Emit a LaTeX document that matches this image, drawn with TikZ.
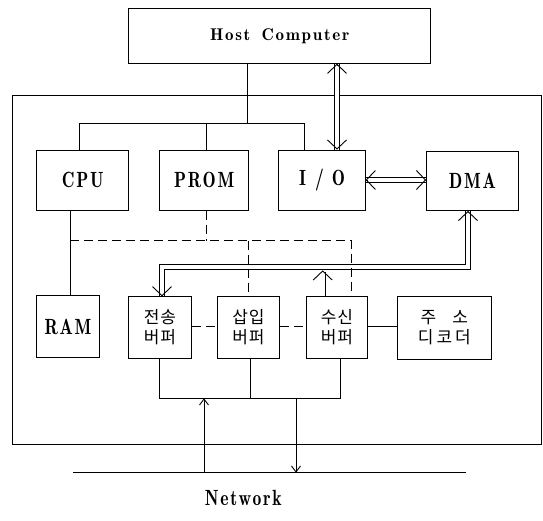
\documentclass[tikz,border=0pt]{standalone}
\usepackage{fontspec}
\usetikzlibrary{arrows.meta}
\newfontfamily\krfont[LetterSpace=5]{Noto Sans CJK KR}
\newfontfamily\krwide[LetterSpace=18]{Noto Sans CJK KR}
\newfontfamily\labfont[LetterSpace=8,FakeStretch=0.8]{lmromandemi10-regular.otf}
\newfontfamily\hostfont[LetterSpace=10]{lmromandemi10-regular.otf}
\begin{document}
\begin{tikzpicture}[x=1pt,y=-1pt,line width=0.9pt,
  box/.style={draw,inner sep=0pt,line width=0.9pt},
  lab/.style={font=\labfont\fontsize{22}{24}\selectfont},
  kr/.style={font=\krfont\fontsize{17}{20}\selectfont,align=center},
  krw/.style={font=\krwide\fontsize{17}{20}\selectfont,align=center},
  dsh/.style={dash pattern=on 9pt off 5pt},
  dbl/.style={double,double distance=4.6pt,line width=0.85pt},
  chev/.style={line width=0.9pt,-{Straight Barb[length=9pt,width=19pt]}},
  arr/.style={-{Straight Barb[length=6pt,width=9pt]}}]
\useasboundingbox (0,0) rectangle (543,520);
% boxes
\node[box,minimum width=529.1pt,minimum height=349.3pt] (outer) at (277.05,269.65) {};
\node[box,minimum width=302pt,minimum height=54.9pt,font=\hostfont\fontsize{17}{20}\selectfont] (host) at (279.7,35.85) {Host\hspace{4pt} Computer};
\node[box,lab,minimum width=92pt,minimum height=60.5pt] (cpu) at (82.7,180.25) {CPU};
\node[box,lab,minimum width=88.6pt,minimum height=60.5pt] (prom) at (204.2,180.25) {PROM};
\node[box,lab,minimum width=86.5pt,minimum height=60.5pt] (io) at (322.05,180.25) {I\hspace{9pt}/\hspace{8pt}O};
\node[box,lab,minimum width=91.7pt,minimum height=59pt] (dma) at (472.35,181) {DMA};
\node[box,lab,minimum width=62.6pt,minimum height=62pt] (ram) at (68,326.7) {RAM};
\node[box,kr,minimum width=63.4pt,minimum height=61.6pt] (tx) at (160,327.5) {전송\\버퍼};
\node[box,kr,minimum width=61.6pt,minimum height=61.6pt] (ins) at (248.5,327.5) {삽입\\버퍼};
\node[box,kr,minimum width=60.5pt,minimum height=61.6pt] (rx) at (336.95,327.5) {수신\\버퍼};
\node[box,krw,minimum width=93.3pt,minimum height=62.3pt] (dec) at (444.35,327.85) {주\hspace{16pt}소\\디코더};
% host bus
\coordinate (hb) at (247.8,123.3);
\coordinate (bl) at (79.6,123.3);
\coordinate (bm) at (206.6,123.3);
\coordinate (br) at (304.5,123.3);
\draw (host.south -| hb) -- (hb);
\draw (cpu.north -| bl) -- (bl) -- (br) -- (io.north -| br);
\draw (prom.north -| bm) -- (bm);
% double connectors
\coordinate (hio) at (337,100);
\coordinate (iod) at (400,180);
\coordinate (a1) at (host.south -| hio);
\coordinate (a2) at (io.north -| hio);
\coordinate (a3) at (io.east |- iod);
\coordinate (a4) at (dma.west |- iod);
\coordinate (c1) at (468,267);
\coordinate (c2) at (162,267);
\coordinate (a5) at (dma.south -| c1);
\coordinate (a6) at (tx.north -| c2);
\coordinate (rxa) at (322.7,270.4);
\coordinate (a7) at (rx.north -| rxa);
\draw[dbl] (a1) -- (a2);
\draw[dbl] (a3) -- (a4);
\draw[dbl] (a5) -- (c1) -- (c2) -- (a6);
\draw[dbl] (a7) -- ([yshift=-1.5pt]rxa);
% arrowheads of the double connectors
\draw[chev] ([yshift=-1pt]a1) -- (a1);
\draw[chev] ([yshift=1pt]a2) -- (a2);
\draw[chev] ([xshift=1pt]a3) -- (a3);
\draw[chev] ([xshift=-1pt]a4) -- (a4);
\draw[chev] ([yshift=-1pt]a5) -- (a5);
\draw[chev] ([yshift=1pt]a6) -- (a6);
\draw[chev] ([yshift=-1pt]rxa) -- (rxa);
% cpu - ram
\coordinate (cr) at (70,240.7);
\draw (cpu.south -| cr) -- (ram.north -| cr);
% dashed control lines
\coordinate (dr) at (351,240.7);
\coordinate (dp) at (206.7,240.7);
\coordinate (di) at (248.7,240.7);
\draw[dsh] (cr) -- (dr) -- (rx.north -| dr);
\draw[dsh] (prom.south -| dp) -- (dp);
\draw[dsh] (di) -- (ins.north -| di);
\coordinate (row) at (0,326.7);
\draw[dsh] (tx.east |- row) -- (ins.west |- row);
\draw[dsh] (ins.east |- row) -- (rx.west |- row);
\draw (rx.east |- row) -- (dec.west |- row);
% bottom bus
\coordinate (bb1) at (159.3,398.3);
\coordinate (bb2) at (250,398.3);
\coordinate (bb3) at (340.5,398.3);
\draw (tx.south -| bb1) -- (bb1) -- (bb3) -- (rx.south -| bb3);
\draw (ins.south -| bb2) -- (bb2);
% network
\coordinate (netL) at (73.3,472.7);
\coordinate (netR) at (466,472.7);
\draw (netL) -- (netR);
\coordinate (up) at (204,472.7);
\coordinate (dn) at (296,472.7);
\draw[arr] (up) -- (up |- bb1);
\draw[arr] (dn |- bb1) -- (dn);
\node[lab] (net) at (243.3,497.5) {Network};
\end{tikzpicture}
\end{document}
